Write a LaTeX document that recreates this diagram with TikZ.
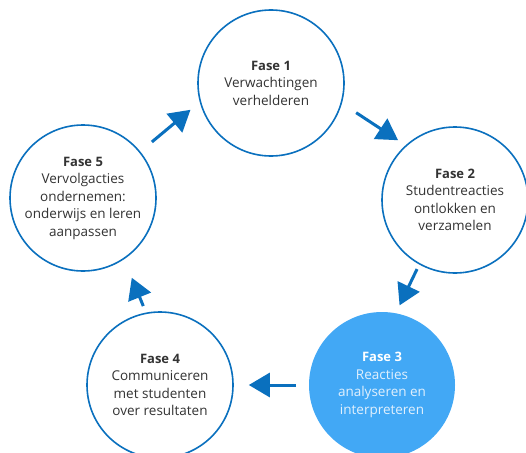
\documentclass[tikz,border=0pt]{standalone}
\usepackage{fontspec}
\setmainfont{Open Sans}
\usetikzlibrary{arrows.meta, positioning}
\definecolor{Fase-blue}{RGB}{10,112,190}
\definecolor{Fase-fill}{RGB}{66,168,245}
\definecolor{Fase-text}{RGB}{51,51,51}
\definecolor{Fase-soft}{RGB}{225,240,253}

\tikzset{
  phase/.style={circle, draw=Fase-blue, line width=1.6pt, fill=white, minimum size=146pt, inner sep=0pt,
    align=center, text=Fase-text, font=\fontsize{13.5}{17.5}\selectfont},
  phasehot/.style={phase, draw=none, fill=Fase-fill, text=Fase-soft},
  flow/.style={draw=Fase-blue, line width=3pt, -{Triangle[length=21pt, width=24pt]}}
}
\newcommand{\fasetitle}[1]{{\fontsize{13}{17.5}\selectfont\bfseries #1}}

\begin{document}
\begin{tikzpicture}[x=1pt, y=-1pt]
  \useasboundingbox (0,0) rectangle (526,452);

  \node[phase]    (f1) at (271, 83) {\fasetitle{Fase 1}\\Verwachtingen\\verhelderen};
  \node[phase]    (f2) at (455,200) {\fasetitle{Fase 2}\\Studentreacties\\ontlokken en\\verzamelen};
  \node[phasehot] (f3) at (382,385) {\textcolor{white}{\fasetitle{Fase 3}}\\Reacties\\analyseren en\\interpreteren};
  \node[phase]    (f4) at (160,385) {\fasetitle{Fase 4}\\Communiceren\\met studenten\\over resultaten};
  \node[phase]    (f5) at ( 83,198) {\fasetitle{Fase 5}\\Vervolgacties\\ondernemen:\\onderwijs en leren\\aanpassen};

  \draw[flow, shorten <=15pt, shorten >=12pt] (f5.39)  -- (f1.195);
  \draw[flow, shorten <=17pt, shorten >=9pt]  (f1.-16) -- (f2.132);
  \draw[flow, shorten <=5pt,  shorten >=8pt]  (f2.241) -- (f3.79);
  \draw[flow, shorten <=12pt, shorten >=15pt] (f3.180) -- (f4.0);
  \draw[flow, shorten <=7pt,  shorten >=20pt] (f4.101) -- (f5.-56);
\end{tikzpicture}
\end{document}
